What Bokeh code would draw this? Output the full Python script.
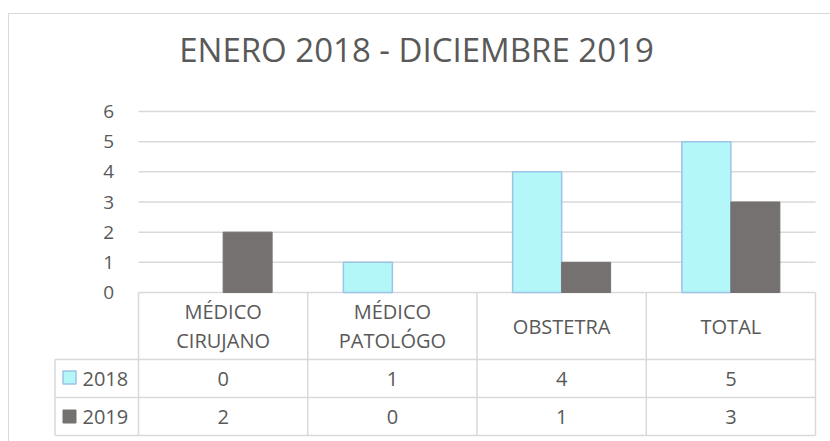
from bokeh.plotting import figure
from bokeh.layouts import column
from bokeh.models import Range1d, ColumnDataSource
from bokeh.core.properties import value
from bokeh.embed import file_html
from bokeh.resources import INLINE
import numpy as np

# ---------------- data ----------------
title_text = "ENERO 2018 - DICIEMBRE 2019"
categories = ["MÉDICO\nCIRUJANO", "MÉDICO\nPATOLÓGO", "OBSTETRA", "TOTAL"]
series_names = ["2018", "2019"]
values_2018 = [0, 1, 4, 5]
values_2019 = [2, 0, 1, 3]
y_ticks = [0, 1, 2, 3, 4, 5, 6]

# ---------------- style / layout ----------------
FONT = "Open Sans"
TXT = "#595959"
GRID = "#d9d9d9"
C2018 = "#b3f7f9"
C2018_LINE = "#9dc3e6"
C2019 = "#767171"

OX, OY = 9, 14            # content origin (after chart border)
W, H = 830 - OX, 441 - OY
PL, PR = 138, 815         # plot area left/right (absolute px)
Y0_ABS, Y6_ABS = 292, 111 # pixel rows of y=0 and y=6
PPU = (Y0_ABS - Y6_ABS) / 6.0
CW = (PR - PL) / 4.0      # category width in px
BW = 49 / CW              # bar width in category units
FL, FR = 52, 817          # frame left/right (absolute)

n = len(categories)
idx = np.arange(n) + 0.5


def xd(px):
    return (px - PL) / CW


def yd(py):
    return (Y0_ABS - py) / PPU


p = figure(width=W, height=H, output_backend="svg", toolbar_location=None,
           x_axis_location=None, y_axis_location=None,
           min_border_left=FL - OX, min_border_right=W - (FR - OX),
           min_border_top=0, min_border_bottom=0)
p.x_range = Range1d(xd(FL), xd(FR))
p.y_range = Range1d(yd(441), yd(OY))
p.outline_line_color = None
p.grid.visible = False
p.background_fill_color = "white"
p.border_fill_color = "white"

# value gridlines and their labels
p.segment(x0=[0] * len(y_ticks), x1=[n] * len(y_ticks), y0=y_ticks, y1=y_ticks,
          line_color=GRID, line_width=1.5)
p.text(x=[xd(113.5)] * len(y_ticks), y=y_ticks, text=[str(t) for t in y_ticks],
       text_font=value(FONT), text_font_size="19px", text_color=TXT,
       text_align="right", text_baseline="middle")

# bars
src = ColumnDataSource(dict(x18=idx - BW / 2, x19=idx + BW / 2,
                            v18=values_2018, v19=values_2019,
                            a18=[1 if v > 0 else 0 for v in values_2018],
                            a19=[1 if v > 0 else 0 for v in values_2019]))
p.vbar(x="x18", top="v18", bottom=0, width=BW, source=src,
       fill_color=C2018, line_color=C2018_LINE, line_width=1.5,
       line_alpha="a18", fill_alpha="a18")
p.vbar(x="x19", top="v19", bottom=0, width=BW, source=src,
       fill_color=C2019, line_color=C2019, line_width=1,
       line_alpha="a19", fill_alpha="a19")

# title
p.text(x=[xd(416)], y=[yd(49)], text=[title_text],
       text_font=value(FONT), text_font_size="33px", text_color=TXT,
       text_align="center", text_baseline="middle")

# ---------------- data table ----------------
row0, row1, row2, row3 = yd(292), yd(359), yd(397), yd(435)
legend_left = xd(54.5)

p.segment(x0=[legend_left, legend_left, legend_left], x1=[n, n, n],
          y0=[row1, row2, row3], y1=[row1, row2, row3],
          line_color=GRID, line_width=1.5)
xs = list(range(n + 1))
p.segment(x0=xs, x1=xs, y0=[row0] * len(xs), y1=[row3] * len(xs),
          line_color=GRID, line_width=1.5)
p.segment(x0=[legend_left], x1=[legend_left], y0=[row1], y1=[row3],
          line_color=GRID, line_width=1.5)

p.text(x=idx, y=[(row0 + row1) / 2] * n, text=categories,
       text_font=value(FONT), text_font_size="20px", text_color=TXT,
       text_align="center", text_baseline="middle", text_line_height=1.08)
r1c = (row1 + row2) / 2
r2c = (row2 + row3) / 2
p.text(x=idx, y=[r1c] * n, text=[str(v) for v in values_2018],
       text_font=value(FONT), text_font_size="20px", text_color=TXT,
       text_align="center", text_baseline="middle")
p.text(x=idx, y=[r2c] * n, text=[str(v) for v in values_2019],
       text_font=value(FONT), text_font_size="20px", text_color=TXT,
       text_align="center", text_baseline="middle")

key_x = xd(69)
p.rect(x=[key_x], y=[yd(377)], width=13, height=13, width_units="screen",
       height_units="screen", fill_color=C2018, line_color=C2018_LINE, line_width=1.5)
p.rect(x=[key_x], y=[yd(416)], width=13, height=13, width_units="screen",
       height_units="screen", fill_color=C2019, line_color=C2019, line_width=1)
p.text(x=[xd(82)] * 2, y=[r1c, r2c], text=series_names,
       text_font=value(FONT), text_font_size="20px", text_color=TXT,
       text_align="left", text_baseline="middle")

layout = column(p, spacing=0, margin=(13, 0, 0, 8),
                styles={"border-left": "1px solid #d9d9d9",
                        "border-top": "1px solid #d9d9d9"})

open("out.html", "w").write(file_html(layout, INLINE))
